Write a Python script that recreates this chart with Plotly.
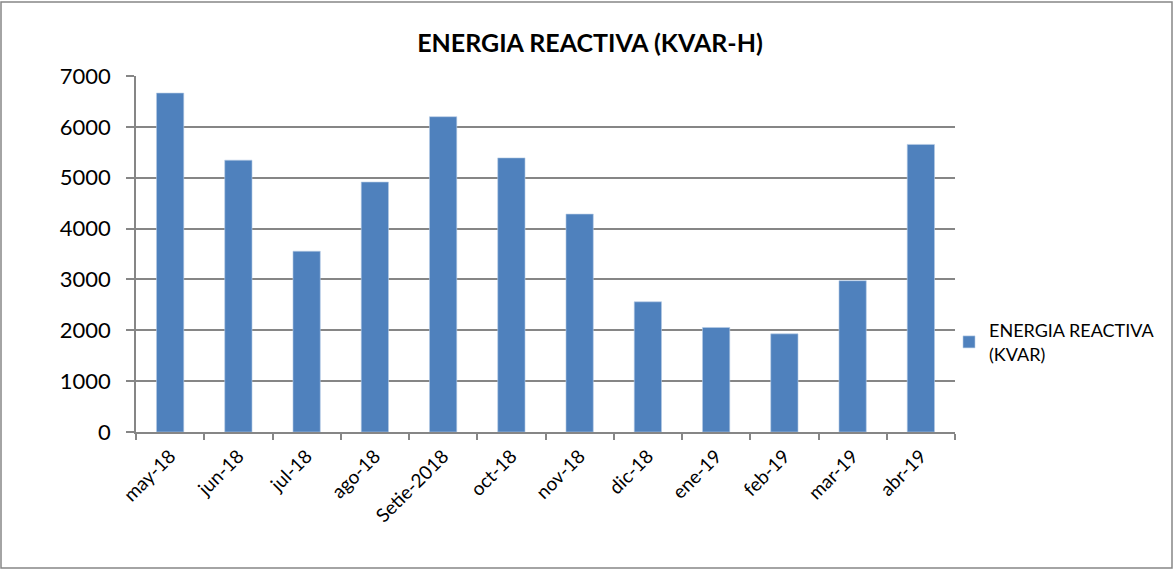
import plotly.graph_objects as go

categories = ["may-18", "jun-18", "jul-18", "ago-18", "Setie-2018", "oct-18",
              "nov-18", "dic-18", "ene-19", "feb-19", "mar-19", "abr-19"]
values = [6665, 5345, 3555, 4915, 6200, 5390, 4285, 2560, 2055, 1930, 2975, 5655]
series_name = "ENERGIA REACTIVA<br>(KVAR)"
title_text = "ENERGIA REACTIVA (KVAR-H)"
y_ticks = [0, 1000, 2000, 3000, 4000, 5000, 6000, 7000]

FONT = "Lato, 'Open Sans', sans-serif"
GRID = "#868686"

L, R, T, B = 136, 955, 76, 432
W, H = 1175, 571
pw, ph = R - L, B - T

fig = go.Figure()
fig.add_trace(go.Bar(
    x=categories, y=values, name=series_name,
    marker=dict(color="#4F81BD", line=dict(color="#B9CDE5", width=0.6)),
    showlegend=True,
))

fig.update_layout(
    width=W, height=H,
    margin=dict(l=L, r=W - R, t=T, b=H - B),
    paper_bgcolor="white", plot_bgcolor="white",
    font=dict(family=FONT, color="black"),
    title=dict(text="<b>" + title_text + "</b>", x=590 / W, xanchor="center",
               y=1 - 43 / H, yanchor="middle", font=dict(size=25, family=FONT)),
    bargap=0.6,
    showlegend=True,
    legend=dict(x=(949 - L) / pw, xanchor="left", y=(B - 342) / ph, yanchor="middle",
                font=dict(size=18, family=FONT), itemwidth=30,
                bgcolor="rgba(0,0,0,0)"),
    xaxis=dict(
        showline=True, linecolor=GRID, linewidth=1.5,
        ticks="outside", tickson="boundaries", ticklen=6, tickcolor=GRID,
        tickwidth=1.5, tickangle=-45, tickfont=dict(size=19, family=FONT),
        showgrid=False, ticklabelstandoff=4,
    ),
    yaxis=dict(
        range=[0, 7000], tickvals=y_ticks,
        showline=True, linecolor=GRID, linewidth=1.5,
        ticks="outside", ticklen=8, tickcolor=GRID, tickwidth=1.5,
        showgrid=True, gridcolor=GRID, gridwidth=1.5,
        tickfont=dict(size=22, family=FONT), zeroline=False,
        ticklabelstandoff=11,
    ),
    shapes=[dict(type="rect", xref="paper", yref="paper",
                 x0=(1 - L) / pw, x1=(1172 - L) / pw,
                 y0=(B - 568) / ph, y1=(B - 2) / ph,
                 line=dict(color="#868686", width=1.5), fillcolor="rgba(0,0,0,0)",
                 layer="below")],
)

fig.write_html("out.html", config={"displayModeBar": False},
               post_script="document.body.style.margin='0';")
